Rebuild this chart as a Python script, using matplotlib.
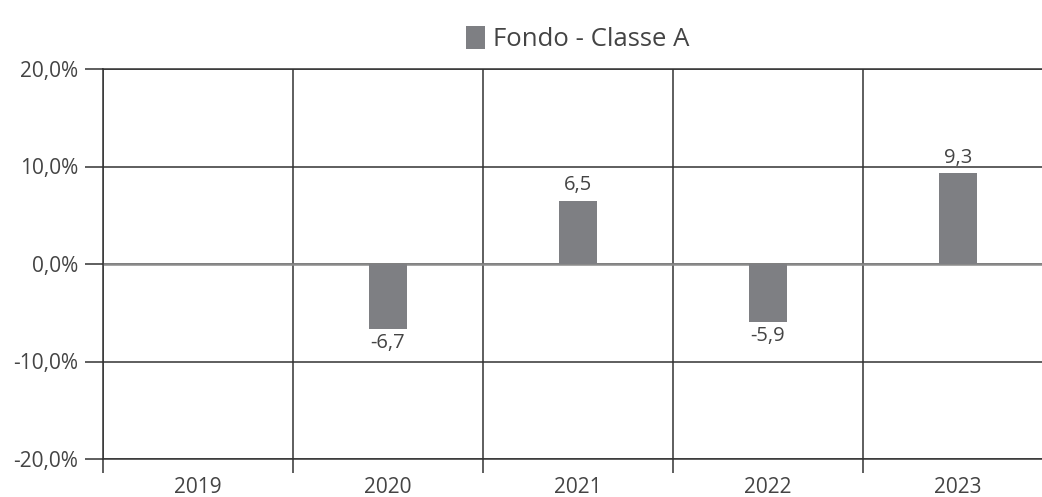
import matplotlib
matplotlib.use('Agg')
import matplotlib.pyplot as plt
import numpy as np

# rendimenti annui del fondo (2019 senza dato)
anni = ['2019', '2020', '2021', '2022', '2023']
rendimenti = [np.nan, -6.7, 6.5, -5.9, 9.3]
etichette_y = ['-20,0%', '-10,0%', '0,0%', '10,0%', '20,0%']
valori_y = [-20, -10, 0, 10, 20]

plt.rcParams['font.family'] = ['Open Sans', 'DejaVu Sans']
testo = '#444444'
linee = '#333333'
barra = '#7e7f83'

fig = plt.figure(figsize=(10.42, 4.97), dpi=100)
ax = fig.add_axes([103/1042, 38/497, 950/1042, 390/497])

x = np.arange(len(anni))
ax.bar(x, rendimenti, width=0.2, color=barra, zorder=3, label='Fondo - Classe A')

# etichette dei valori sopra/sotto le barre
for xi, v in zip(x, rendimenti):
    if np.isnan(v):
        continue
    testo_v = f'{v:.1f}'.replace('.', ',')
    if v >= 0:
        ax.annotate(testo_v, (xi, v), xytext=(0, 4), textcoords='offset points',
                    ha='center', va='bottom', fontsize=14.5, color=testo)
    else:
        ax.annotate(testo_v, (xi, v), xytext=(0, -3), textcoords='offset points',
                    ha='center', va='top', fontsize=14.5, color=testo)

ax.set_xlim(-0.5, len(anni) - 0.5)
ax.set_ylim(-20, 20)

ax.set_yticks(valori_y)
ax.set_yticklabels(etichette_y)
ax.set_xticks(x)
ax.set_xticklabels(anni)
ax.set_xticks(np.arange(-0.5, len(anni)), minor=True)

ax.tick_params(axis='x', which='major', length=0, pad=13, labelsize=15, labelcolor=testo)
ax.tick_params(axis='x', which='minor', length=10, width=1.1, color=linee, direction='out')
ax.tick_params(axis='y', length=13, width=1.1, color=linee, pad=5, labelsize=15, labelcolor=testo)

ax.grid(axis='y', which='major', color=linee, linewidth=1.1, zorder=1)
ax.grid(axis='x', which='minor', color=linee, linewidth=1.1, zorder=1)
ax.axhline(0, color='#8a8a8a', linewidth=1.8, zorder=2)

ax.spines['right'].set_visible(False)
for lato in ['left', 'top', 'bottom']:
    ax.spines[lato].set_color(linee)
    ax.spines[lato].set_linewidth(1.1)

leg = fig.legend(loc='upper center', bbox_to_anchor=(0.554, 0.995), frameon=False,
                 fontsize=18.5, handlelength=0.75, handleheight=1.0, handletextpad=0.3,
                 labelcolor=testo)

fig.savefig('out.png', dpi=100)
